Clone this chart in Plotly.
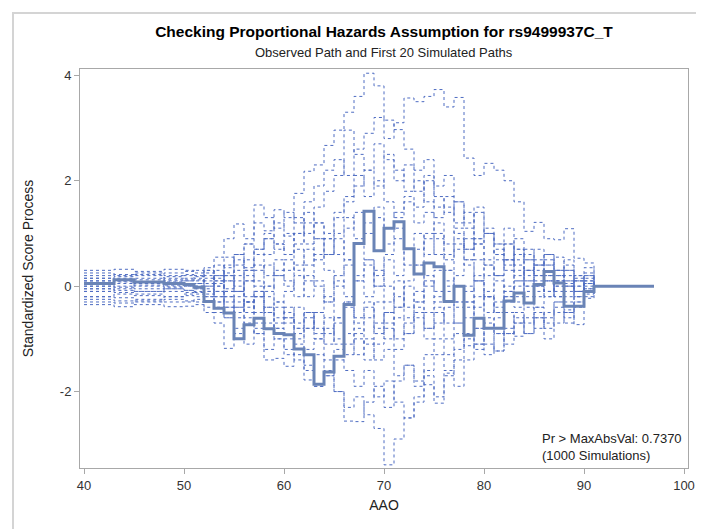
import plotly.graph_objects as go

# event times (AAO) shared by all paths
aao = [40, 43, 45, 48, 50, 51, 52, 53, 54, 55, 56, 57, 58, 59, 60, 61, 62, 63, 64, 65,
       66, 67, 68, 69, 70, 71, 72, 73, 74, 75, 76, 77, 78, 79, 80, 81, 82, 83, 84, 85,
       86, 87, 88, 89, 90, 91, 97]

observed = [0.05, 0.12, 0.08, 0.05, 0.03, -0.02, -0.29, -0.42, -0.51, -1.00, -0.73, -0.61,
            -0.81, -0.90, -0.92, -1.19, -1.30, -1.86, -1.63, -1.33, -0.35, 0.81, 1.42, 0.67,
            1.10, 1.22, 0.71, 0.23, 0.44, 0.37, -0.29, 0.00, -0.93, -0.61, -0.80, -0.80,
            -0.28, -0.13, -0.32, 0.03, 0.28, 0.06, -0.38, -0.38, -0.10, 0.00, 0.00]

sim01 = [0.30, 0.32, 0.28, 0.32, 0.30, 0.25, 0.35, 0.55, 0.90, 1.18, 0.90, 1.20, 1.05, 1.45,
         1.30, 1.76, 2.18, 2.30, 2.67, 2.96, 3.30, 3.60, 4.04, 3.80, 3.15, 2.97, 2.60, 2.20,
         2.40, 1.90, 2.10, 1.60, 1.20, 1.50, 1.00, 0.80, 1.10, 0.70, 0.50, 0.70, 0.40, 0.55,
         0.30, 0.20, 0.35, 0, 0]
sim02 = [0.20, 0.22, 0.25, 0.20, 0.22, 0.18, 0.30, 0.20, 0.55, 0.40, 0.80, 1.54, 1.30, 1.10,
         1.40, 1.20, 1.60, 1.90, 2.20, 2.40, 2.10, 2.60, 2.90, 3.20, 2.80, 3.10, 3.57, 3.50,
         3.60, 3.73, 3.40, 3.58, 2.43, 2.10, 2.33, 2.20, 2.00, 1.60, 1.04, 1.21, 0.90, 0.88,
         1.09, 0.53, 0.44, 0, 0]
sim03 = [0.10, 0.15, 0.12, 0.18, 0.20, 0.15, 0.05, 0.30, 0.10, 0.60, 0.35, 0.70, 0.90, 1.20,
         0.95, 1.30, 1.00, 1.50, 1.80, 2.10, 2.96, 2.50, 2.20, 2.70, 2.40, 2.00, 2.30, 1.80,
         2.10, 1.50, 1.70, 1.20, 1.40, 0.90, 1.10, 0.60, 0.80, 0.50, 0.70, 0.40, 0.60, 0.30,
         0.50, 0.10, 0.20, 0, 0]
sim04 = [0.05, 0.10, 0.05, 0.08, 0.10, 0.05, 0.20, 0.00, 0.35, 0.20, 0.50, 0.30, 0.60, 0.80,
         0.60, 1.00, 0.80, 1.20, 0.90, 1.40, 1.60, 1.90, 2.20, 1.90, 2.50, 2.20, 1.80, 2.00,
         1.60, 1.30, 1.50, 1.00, 0.70, 0.90, 0.50, 0.70, 0.30, 0.60, 0.20, 0.40, 0.10, 0.30,
         0.00, 0.20, -0.10, 0, 0]
sim05 = [-0.05, 0.00, -0.05, 0.02, 0.00, 0.05, -0.10, 0.15, -0.05, 0.30, 0.10, 0.40, 0.20,
         0.50, 0.30, 0.70, 0.40, 0.90, 0.60, 1.00, 1.30, 0.90, 1.20, 1.50, 1.10, 1.40, 1.70,
         1.50, 2.00, 1.70, 1.40, 1.60, 1.10, 0.80, 1.00, 0.60, 0.40, 0.70, 0.30, 0.50, 0.20,
         0.00, 0.20, -0.10, 0.10, 0, 0]
sim06 = [0.15, 0.18, 0.20, 0.15, 0.12, 0.10, 0.25, 0.05, 0.20, -0.10, 0.20, 0.00, 0.40, 0.20,
         0.50, 0.30, 0.70, 0.50, 0.90, 0.60, 1.10, 1.40, 1.00, 1.30, 0.80, 1.10, 0.70, 1.00,
         0.60, 0.90, 0.50, 0.80, 0.40, 0.10, 0.40, 0.20, 0.50, 0.10, 0.30, 0.00, 0.20, -0.20,
         0.10, -0.10, 0.15, 0, 0]
sim07 = [-0.10, -0.05, -0.10, -0.05, -0.08, -0.10, 0.00, -0.20, 0.10, -0.10, 0.30, 0.10,
         -0.10, 0.20, 0.00, 0.40, 0.10, 0.60, 0.30, 0.00, 0.40, 0.80, 0.50, 0.20, 0.60, 0.90,
         0.40, 0.70, 1.00, 0.60, 0.30, 0.70, 0.90, 0.50, 0.20, 0.50, 0.80, 0.40, 0.10, 0.40,
         0.60, 0.30, 0.10, -0.20, 0.05, 0, 0]
sim08 = [0.00, 0.05, 0.00, -0.02, 0.00, -0.05, -0.20, 0.00, -0.30, -0.10, -0.40, -0.20, 0.00,
         -0.30, -0.10, 0.20, -0.20, 0.10, -0.30, 0.20, 0.50, 0.10, -0.20, 0.30, 0.00, -0.40,
         0.10, 0.40, 0.00, 0.30, -0.10, 0.20, 0.50, 0.10, -0.20, 0.10, -0.30, 0.00, 0.30,
         0.00, -0.20, 0.10, -0.10, 0.15, -0.05, 0, 0]
sim09 = [-0.20, -0.15, -0.18, -0.20, -0.15, -0.12, -0.30, -0.10, -0.40, -0.60, -0.30, -0.50,
         -0.20, -0.40, -0.70, -0.40, -0.80, -0.50, -0.20, -0.60, -0.30, 0.10, 0.40, 0.00, 0.50,
         0.20, 0.70, 0.40, 0.90, 1.20, 0.80, 1.10, 0.70, 1.40, 1.00, 0.80, 0.50, 0.90, 0.60,
         0.30, 0.50, 0.20, 0.40, 0.10, 0.25, 0, 0]
sim10 = [0.25, 0.20, 0.22, 0.25, 0.28, 0.30, 0.10, 0.40, 0.20, 0.00, -0.30, -0.10, -0.50,
         -0.30, -0.60, -0.90, -0.50, -0.80, -1.10, -0.70, -0.30, -0.70, -0.40, -0.90, -0.50,
         -0.20, -0.60, -0.30, 0.10, -0.30, 0.00, -0.40, -0.10, 0.20, -0.20, -0.50, -0.20, 0.10,
         -0.20, 0.10, -0.10, 0.20, 0.00, -0.20, 0.05, 0, 0]
sim11 = [-0.10, -0.12, -0.15, -0.10, -0.12, -0.15, -0.30, -0.50, -0.40, -0.80, -0.60, -0.90,
         -1.20, -1.00, -1.30, -1.10, -1.50, -1.30, -1.70, -2.00, -2.30, -2.10, -2.44, -2.70,
         -3.39, -2.90, -2.50, -2.20, -1.87, -2.22, -1.65, -1.90, -1.40, -1.10, -1.30, -0.90,
         -1.10, -0.70, -0.90, -0.60, -0.80, -0.50, -0.70, -0.40, -0.23, 0, 0]
sim12 = [-0.35, -0.39, -0.35, -0.39, -0.38, -0.35, -0.50, -0.70, -1.18, -0.90, -1.10, -0.80,
         -1.40, -1.37, -1.52, -1.30, -1.78, -1.90, -1.60, -2.00, -2.56, -2.57, -2.20, -1.90,
         -2.30, -1.80, -1.50, -1.80, -1.30, -1.00, -1.30, -0.90, -1.13, -0.80, -0.60, -0.90,
         -0.50, -0.70, -0.40, -0.60, -1.00, -0.70, -0.50, -0.73, -0.20, 0, 0]
sim13 = [-0.25, -0.28, -0.30, -0.25, -0.28, -0.30, -0.15, -0.40, -0.20, -0.50, -0.30, -0.70,
         -0.50, -0.80, -1.00, -0.80, -1.20, -1.00, -1.40, -1.20, -1.60, -1.90, -1.60, -2.10,
         -1.80, -2.20, -2.50, -2.10, -1.60, -1.30, -1.60, -1.20, -0.90, -1.10, -0.70, -1.23,
         -0.80, -0.95, -0.60, -0.80, -0.50, -0.30, -0.50, -0.20, -0.10, 0, 0]
sim14 = [0.05, 0.08, 0.02, 0.05, 0.05, 0.00, -0.10, 0.10, -0.20, -0.40, -0.20, -0.60, -0.40,
         -0.70, -0.50, -0.80, -0.60, -1.00, -0.80, -1.10, -0.90, -1.30, -1.00, -1.40, -1.20,
         -1.70, -1.50, -1.90, -1.70, -2.10, -1.70, -1.40, -1.00, -1.20, -0.80, -0.60, -0.90,
         -0.50, -0.70, -0.40, -0.60, -0.30, -0.45, -0.30, -0.10, 0, 0]
sim15 = [-0.05, -0.08, -0.10, -0.05, -0.08, -0.05, -0.20, -0.30, -0.60, -0.40, -0.70, -0.90,
         -0.70, -1.00, -1.20, -1.40, -1.60, -1.90, -1.70, -1.40, -1.10, -0.80, -1.10, -0.70,
         -1.00, -0.60, -0.90, -0.50, -0.80, -0.40, -0.70, -0.30, -0.60, -0.20, -0.50, -0.30,
         0.00, -0.20, 0.10, -0.10, 0.10, -0.20, 0.00, -0.10, 0.05, 0, 0]
sim16 = [0.10, 0.12, 0.15, 0.10, 0.10, 0.12, 0.00, 0.20, -0.10, 0.10, -0.30, -0.10, -0.40,
         -0.60, -0.40, -0.70, -0.50, -0.90, -0.60, -1.00, -1.30, -1.00, -1.40, -1.10, -0.80,
         -1.20, -0.90, -0.60, -1.00, -0.70, -0.40, -0.70, -0.30, -0.60, -0.20, -0.40, -0.10,
         -0.30, 0.00, -0.20, 0.10, -0.10, 0.05, 0.10, -0.05, 0, 0]
sim17 = [-0.20, -0.22, -0.25, -0.20, -0.18, -0.20, -0.05, -0.30, -0.10, -0.20, 0.10, -0.20,
         0.00, 0.30, 0.10, -0.20, 0.20, 0.00, -0.30, 0.10, -0.20, -0.60, -0.30, -0.80, -0.50,
         -1.00, -0.70, -0.40, -0.80, -0.50, -1.00, -0.70, -0.40, -0.80, -1.10, -1.23, -0.90,
         -0.60, -0.90, -0.50, -0.70, -0.40, -0.60, -0.30, -0.15, 0, 0]
sim18 = [0.15, 0.10, 0.08, 0.12, 0.15, 0.20, 0.30, 0.10, 0.40, 0.60, 0.80, 0.60, 0.90, 0.70,
         1.00, 0.80, 1.20, 0.90, 0.60, 0.90, 0.50, 0.20, 0.50, 0.00, -0.30, 0.10, -0.40, -0.10,
         -0.50, -0.20, 0.10, -0.30, 0.00, -0.40, -0.10, 0.20, -0.10, 0.30, 0.00, 0.20, -0.10,
         0.10, -0.20, 0.00, 0.10, 0, 0]
sim19 = [-0.30, -0.32, -0.28, -0.30, -0.30, -0.25, -0.40, -0.20, -0.60, -0.30, -0.50, -0.20,
         -0.50, -0.80, -0.60, -1.00, -0.80, -0.50, -0.90, -0.60, -0.40, -0.90, -0.60, -0.30,
         -0.70, -0.40, 0.00, -0.30, 0.20, -0.10, 0.30, 0.00, -0.30, 0.10, -0.20, -0.50, -0.20,
         -0.40, -0.10, -0.40, -0.20, 0.00, -0.30, -0.10, 0.00, 0, 0]
sim20 = [0.00, -0.02, 0.05, 0.00, 0.02, 0.00, 0.15, -0.10, 0.25, 0.50, 0.30, 0.70, 1.00, 0.80,
         0.60, 1.00, 1.40, 1.20, 1.00, 1.30, 1.70, 2.10, 1.70, 2.00, 1.60, 1.30, 1.60, 1.20,
         1.40, 1.00, 0.60, 0.90, 0.50, 0.80, 0.40, 0.20, 0.50, 0.20, 0.50, 0.20, 0.40, 0.10,
         0.30, 0.00, 0.20, 0, 0]

simulated = [sim01, sim02, sim03, sim04, sim05, sim06, sim07, sim08, sim09, sim10,
             sim11, sim12, sim13, sim14, sim15, sim16, sim17, sim18, sim19, sim20]

x_ticks = [40, 50, 60, 70, 80, 90, 100]
y_ticks = [-2, 0, 2, 4]
y_tick_text = ["-2", "0", "2", "4"]

fig = go.Figure()

for path in simulated:
    fig.add_trace(go.Scatter(x=aao, y=path, mode="lines", line_shape="hv",
                             line=dict(color="#4e6cc2", width=1, dash="dot"),
                             hoverinfo="skip"))

fig.add_trace(go.Scatter(x=aao, y=observed, mode="lines", line_shape="hv",
                         line=dict(color="#6a84b6", width=3)))

# plot area spans x 72..680, y 61..460 (px)
fig.update_layout(
    width=704, height=529,
    margin=dict(l=72, r=24, t=61, b=69),
    paper_bgcolor="white", plot_bgcolor="white",
    showlegend=False,
    font=dict(family="Liberation Sans, Arial, sans-serif", color="#222"),
    title=dict(text="<b>Checking Proportional Hazards Assumption for rs9499937C_T</b>",
               x=0.5, xref="paper", xanchor="center",
               y=1 - 24 / 529, yanchor="middle",
               font=dict(size=15.5, color="black")),
    xaxis=dict(range=[39.6, 100.4], tickvals=x_ticks,
               showgrid=False, zeroline=False, showline=True, mirror=True,
               linecolor="#a8a8a8", linewidth=1, ticks="outside", ticklen=5,
               tickcolor="#a8a8a8", tickfont=dict(size=13, color="#333"),
               title=dict(text="AAO", font=dict(size=14, color="#222"), standoff=8)),
    yaxis=dict(range=[-3.45, 4.12], tickvals=y_ticks, ticktext=y_tick_text,
               showgrid=False, zeroline=False, showline=True, mirror=True,
               linecolor="#a8a8a8", linewidth=1, ticks="outside", ticklen=5,
               tickcolor="#a8a8a8", tickfont=dict(size=13, color="#333"),
               title=dict(text="Standardized Score Process", font=dict(size=14, color="#222"),
                          standoff=22)),
    annotations=[
        dict(text="Observed Path and First 20 Simulated Paths", xref="paper", yref="paper",
             x=0.5, y=(460 - 44) / 399, xanchor="center", yanchor="middle",
             showarrow=False, font=dict(size=13, color="#222")),
        dict(text="Pr > MaxAbsVal: 0.7370<br>(1000 Simulations)", xref="paper", yref="paper",
             x=(532 - 72) / 608, y=(460 - 457) / 399, xanchor="left", yanchor="bottom",
             align="left", showarrow=False, font=dict(size=13, color="#222")),
    ],
    shapes=[dict(type="rect", xref="paper", yref="paper",
                 x0=(5 - 72) / 608, x1=(697 - 72) / 608,
                 y0=(460 - 524) / 399, y1=(460 - 5) / 399,
                 line=dict(color="#d4d4d4", width=2), fillcolor="rgba(0,0,0,0)")],
)

fig.write_html("out.html")
